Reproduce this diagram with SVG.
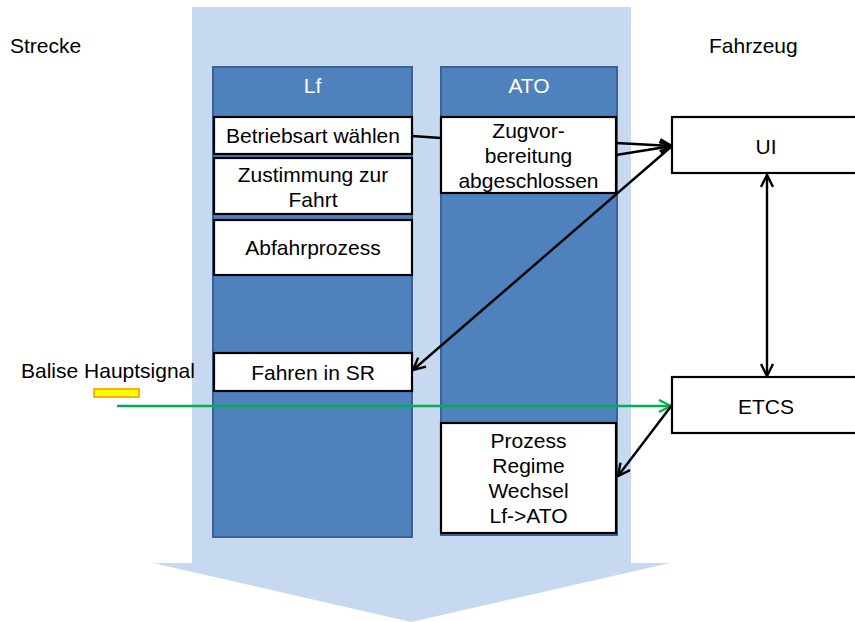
<svg xmlns="http://www.w3.org/2000/svg" width="855" height="622" viewBox="0 0 855 622">
<defs>
<style>
text{font-family:"Liberation Sans",Arial,sans-serif;font-size:21px;fill:#000}
.hd{fill:#fff;font-size:21px}
.col{fill:#4F81BD;stroke:#3A6393;stroke-width:2}
.box{fill:#fff;stroke:#000;stroke-width:2.2}
.ln{stroke:#000;stroke-width:2.4;fill:none}
.gr{stroke:#00B050;stroke-width:2.6;fill:none}
</style>
<marker id="ah" viewBox="0 0 14 14" refX="13" refY="7" markerWidth="14" markerHeight="14" markerUnits="userSpaceOnUse" orient="auto-start-reverse">
<path d="M1,1 L13,7 L1,13" fill="none" stroke="#000" stroke-width="2.4"/>
</marker>
<marker id="ag" viewBox="0 0 14 14" refX="13" refY="7" markerWidth="14" markerHeight="14" markerUnits="userSpaceOnUse" orient="auto">
<path d="M1,1 L13,7 L1,13" fill="none" stroke="#00B050" stroke-width="2.4"/>
</marker>
</defs>
<rect width="855" height="622" fill="#fff"/>
<g id="bigarrow">
<path d="M192,7 L631,7 L631,563 L670,563 L411,622 L153,563 L192,563 Z" fill="#C6D9F1"/>
</g>
<g id="labels">
<text x="10" y="53">Strecke</text>
<text x="709" y="53">Fahrzeug</text>
<text x="21" y="378">Balise Hauptsignal</text>
</g>
<g id="col-lf">
<rect class="col" x="213" y="67" width="199" height="470"/>
<text class="hd" x="312.5" y="93" text-anchor="middle">Lf</text>
</g>
<g id="col-ato">
<rect class="col" x="441" y="67" width="176" height="468"/>
<text class="hd" x="529" y="93" text-anchor="middle">ATO</text>
</g>
<g id="n-betriebsart">
<rect class="box" x="214" y="117" width="198" height="37"/>
<text x="313" y="143" text-anchor="middle">Betriebsart wählen</text>
</g>
<g id="n-zustimmung">
<rect class="box" x="214" y="158" width="198" height="56"/>
<text x="313" y="182" text-anchor="middle">Zustimmung zur</text>
<text x="313" y="207" text-anchor="middle">Fahrt</text>
</g>
<g id="n-abfahr">
<rect class="box" x="214" y="220" width="198" height="55"/>
<text x="313" y="255" text-anchor="middle">Abfahrprozess</text>
</g>
<g id="n-sr">
<rect class="box" x="214" y="353" width="198" height="38"/>
<text x="313" y="380" text-anchor="middle">Fahren in SR</text>
</g>
<g id="n-zugvor">
<rect class="box" x="441" y="117" width="175" height="76"/>
<text x="528.5" y="138" text-anchor="middle">Zugvor-</text>
<text x="528.5" y="163" text-anchor="middle">bereitung</text>
<text x="528.5" y="188" text-anchor="middle">abgeschlossen</text>
</g>
<g id="n-prozess">
<rect class="box" x="441" y="423" width="175" height="110"/>
<text x="528.5" y="448" text-anchor="middle">Prozess</text>
<text x="528.5" y="473" text-anchor="middle">Regime</text>
<text x="528.5" y="498" text-anchor="middle">Wechsel</text>
<text x="528.5" y="523" text-anchor="middle">Lf-&gt;ATO</text>
</g>
<g id="n-ui">
<rect class="box" x="672" y="117" width="190" height="56"/>
<text x="766" y="154" text-anchor="middle">UI</text>
</g>
<g id="n-etcs">
<rect class="box" x="672" y="377" width="190" height="56"/>
<text x="766" y="414" text-anchor="middle">ETCS</text>
</g>
<g id="n-balise">
<rect x="94" y="389" width="45" height="8" fill="#FFFF00" stroke="#FFB000" stroke-width="2"/>
</g>
<g id="connectors">
<line class="ln" x1="412" y1="136" x2="441" y2="138"/>
<line class="ln" x1="616" y1="143" x2="672" y2="146" marker-end="url(#ah)"/>
<line class="ln" x1="616" y1="155" x2="672" y2="146" marker-end="url(#ah)"/>
<line class="ln" x1="672" y1="146" x2="413" y2="370" marker-end="url(#ah)"/>
<line class="ln" x1="767" y1="175" x2="767" y2="376" marker-start="url(#ah)" marker-end="url(#ah)"/>
<line class="gr" x1="117" y1="406" x2="671" y2="406" marker-end="url(#ag)"/>
<line class="ln" x1="672" y1="405" x2="618" y2="476" marker-end="url(#ah)"/>
</g>
</svg>
